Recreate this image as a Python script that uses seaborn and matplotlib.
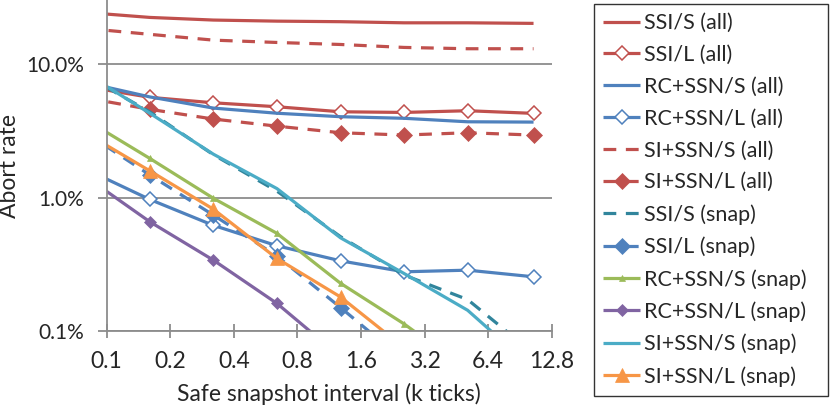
import numpy as np
import pandas as pd
import matplotlib
matplotlib.use("Agg")
import matplotlib.pyplot as plt
import seaborn as sns
from matplotlib.ticker import FixedLocator, FuncFormatter, NullLocator

# ---- data (abort rate in %) ----
intervals = [0.08, 0.16, 0.32, 0.64, 1.28, 2.56, 5.12, 10.5]
x_ticks = [0.1, 0.2, 0.4, 0.8, 1.6, 3.2, 6.4, 12.8]
x_tick_labels = ["0.1", "0.2", "0.4", "0.8", "1.6", "3.2", "6.4", "12.8"]
y_ticks = [0.1, 1.0, 10.0]

ssi_s_all = [24.5, 22.5, 21.5, 21.1, 20.9, 20.5, 20.5, 20.3]
ssi_l_all = [6.8, 5.66, 5.15, 4.81, 4.41, 4.36, 4.49, 4.29]
rc_s_all = [7.3, 5.7, 4.7, 4.3, 4.05, 3.94, 3.71, 3.69]
rc_l_all = [1.63, 0.97, 0.62, 0.436, 0.336, 0.278, 0.286, 0.255]
si_s_all = [18.6, 16.8, 15.2, 14.6, 14.1, 13.4, 13.1, 13.1]
si_l_all = [5.6, 4.6, 3.89, 3.44, 3.07, 2.95, 3.07, 2.95]
ssi_s_snap = [8.2, 4.4, 2.1, 1.12, 0.51, 0.263, 0.172, 0.068]
ssi_l_snap = [3.05, 1.48, 0.74, 0.365, 0.15, 0.06, np.nan, np.nan]
rc_s_snap = [3.83, 1.97, 0.99, 0.54, 0.228, 0.113, 0.051, np.nan]
rc_l_snap = [1.43, 0.66, 0.34, 0.161, 0.064, np.nan, np.nan, np.nan]
si_s_snap = [8.5, 4.3, 2.12, 1.17, 0.50, 0.27, 0.143, 0.052]
si_l_snap = [3.04, 1.59, 0.82, 0.35, 0.18, 0.075, np.nan, np.nan]

RED = "#C0504D"
BLUE = "#4F81BD"
GREEN = "#9BBB59"
PURPLE = "#8064A2"
CYAN = "#4BACC6"
TEAL = "#31859C"
ORANGE = "#F79646"
DASH = (4, 3)

series = [
    ("SSI/S (all)", ssi_s_all, RED, None, None, None),
    ("SSI/L (all)", ssi_l_all, RED, None, "D", "open"),
    ("RC+SSN/S (all)", rc_s_all, BLUE, None, None, None),
    ("RC+SSN/L (all)", rc_l_all, BLUE, None, "D", "open"),
    ("SI+SSN/S (all)", si_s_all, RED, DASH, None, None),
    ("SI+SSN/L (all)", si_l_all, RED, DASH, "D", "fill"),
    ("SSI/S (snap)", ssi_s_snap, TEAL, DASH, None, None),
    ("SSI/L (snap)", ssi_l_snap, BLUE, DASH, "D", "fill"),
    ("RC+SSN/S (snap)", rc_s_snap, GREEN, None, "^", "small"),
    ("RC+SSN/L (snap)", rc_l_snap, PURPLE, None, "D", "fillsmall"),
    ("SI+SSN/S (snap)", si_s_snap, CYAN, None, None, None),
    ("SI+SSN/L (snap)", si_l_snap, ORANGE, None, "^", "tri"),
]

sns.set_theme(style="white")
plt.rcParams["font.family"] = ["Lato", "DejaVu Sans"]

fig = plt.figure(figsize=(8.30, 4.05), dpi=100)
ax = fig.add_axes([106.7 / 830, 1 - 331 / 405, (551.7 - 106.7) / 830, 331 / 405])

for name, vals, color, dash, marker, mstyle in series:
    df = pd.DataFrame({"x": intervals, "y": vals}).dropna()
    kw = dict(color=color, linewidth=2.3, solid_capstyle="butt", dash_capstyle="butt")
    if dash is not None:
        kw["dashes"] = dash
    if marker is not None:
        kw["marker"] = marker
        if mstyle == "open":
            kw.update(markersize=7.5, markerfacecolor="white", markeredgecolor=color, markeredgewidth=1.1)
        elif mstyle == "fill":
            kw.update(markersize=8.5, markerfacecolor=color, markeredgecolor=color, markeredgewidth=0.5)
        elif mstyle == "fillsmall":
            kw.update(markersize=6.5, markerfacecolor=color, markeredgecolor=color, markeredgewidth=0.5)
        elif mstyle == "small":
            kw.update(markersize=4.5, markerfacecolor=color, markeredgecolor=color, markeredgewidth=0.5)
        elif mstyle == "tri":
            kw.update(markersize=9.5, markerfacecolor=color, markeredgecolor=color, markeredgewidth=0.5)
    sns.lineplot(data=df, x="x", y="y", ax=ax, sort=False, estimator=None, label=name, **kw)

ax.set_xscale("log", base=2)
ax.set_yscale("log")
ax.set_xlim(0.1, 12.8)
ax.set_ylim(0.1, 30.4)

ax.xaxis.set_major_locator(FixedLocator(x_ticks))
ax.xaxis.set_minor_locator(NullLocator())
ax.set_xticklabels(x_tick_labels)
ax.yaxis.set_major_locator(FixedLocator(y_ticks))
ax.yaxis.set_minor_locator(NullLocator())
ax.yaxis.set_major_formatter(FuncFormatter(lambda v, p: f"{v:.1f}%"))

GRID = "#8C8C8C"
ax.grid(axis="y", color=GRID, linewidth=1.3)
ax.grid(axis="x", visible=False)
ax.set_axisbelow(True)
for s in ["top", "right"]:
    ax.spines[s].set_visible(False)
for s in ["left", "bottom"]:
    ax.spines[s].set_color(GRID)
    ax.spines[s].set_linewidth(1.3)

ax.tick_params(axis="x", which="major", direction="inout", length=9.5, width=1.3, color=GRID,
               labelsize=16.5, pad=9.5, bottom=True)
ax.tick_params(axis="y", which="major", direction="out", length=6.5, width=1.3, color=GRID,
               labelsize=15, pad=10, left=True)
ax.set_xlabel("Safe snapshot interval (k ticks)", fontsize=16.5, labelpad=8)
ax.set_ylabel("Abort rate", fontsize=16.5, labelpad=4)

h, l = ax.get_legend_handles_labels()
ax.get_legend().remove()
leg = fig.legend(h, l, loc="upper left",
                 bbox_to_anchor=(594 / 830, 1 - 395 / 405, 234 / 830, 391 / 405),
                 mode="expand",
                 frameon=True, fancybox=False, edgecolor="black", fontsize=15.5,
                 handlelength=1.72, handletextpad=0.2, labelspacing=0.55,
                 borderpad=0.42, borderaxespad=0, numpoints=1)
leg.get_frame().set_linewidth(1.0)

fig.savefig("out.png", dpi=100)
